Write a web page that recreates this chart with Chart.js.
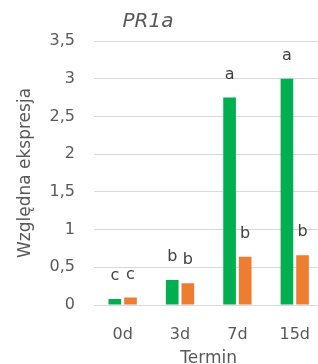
<!DOCTYPE html>
<html>
<head>
<meta charset="utf-8">
<script src="https://cdn.jsdelivr.net/npm/chart.js@4.4.0/dist/chart.umd.min.js"></script>
<style>
  html, body { margin: 0; padding: 0; background: #fff; overflow: hidden; }
  #wrap { width: 330px; height: 375px; }
</style>
</head>
<body>
<div id="wrap"><canvas id="chart"></canvas></div>
<script>
// data
const categories = ['0d', '3d', '7d', '15d'];
const greenValues = [0.08, 0.33, 2.75, 3.0];
const orangeValues = [0.10, 0.29, 0.64, 0.66];
const greenLetters = ['c', 'b', 'a', 'a'];
const orangeLetters = ['c', 'b', 'b', 'b'];

const FONT = "'DejaVu Sans', sans-serif";
const GREY = '#595959';

// letters above the bars
const letterPlugin = {
  id: 'letters',
  afterDatasetsDraw(chart) {
    const ctx = chart.ctx;
    const sets = [greenLetters, orangeLetters];
    ctx.save();
    ctx.font = '16px ' + FONT;
    ctx.fillStyle = '#404040';
    ctx.textAlign = 'center';
    ctx.textBaseline = 'middle';
    sets.forEach((letters, i) => {
      chart.getDatasetMeta(i).data.forEach((bar, j) => {
        ctx.fillText(letters[j], bar.x, bar.y - 23);
      });
    });
    ctx.restore();
  }
};

// chart title drawn by hand so it sits where the original has it
const titlePlugin = {
  id: 'pr1aTitle',
  afterDraw(chart) {
    const ctx = chart.ctx;
    ctx.save();
    ctx.font = 'italic 20px ' + FONT;
    ctx.fillStyle = GREY;
    ctx.textAlign = 'center';
    ctx.textBaseline = 'middle';
    ctx.fillText('PR1a', 148, 22);
    ctx.restore();
  }
};

new Chart(document.getElementById('chart').getContext('2d'), {
  type: 'bar',
  data: {
    labels: categories,
    datasets: [
      { label: 'A', data: greenValues, backgroundColor: '#00b050', borderWidth: 0 },
      { label: 'B', data: orangeValues, backgroundColor: '#ed7d31', borderWidth: 0 }
    ]
  },
  options: {
    responsive: true,
    maintainAspectRatio: false,
    animation: false,
    layout: { padding: { top: 41, right: 0, left: 0, bottom: 0 } },
    datasets: { bar: { categoryPercentage: 0.545, barPercentage: 0.81 } },
    plugins: {
      legend: { display: false },
      tooltip: { enabled: false }
    },
    scales: {
      x: {
        grid: { display: false, drawTicks: false },
        border: { display: false },
        ticks: { color: GREY, font: { family: FONT, size: 16 }, padding: 20 },
        title: { display: true, text: 'Termin', color: GREY, font: { family: FONT, size: 17 }, padding: { top: 0, bottom: 6 } },
        afterFit(scale) { scale.height = 70; }
      },
      y: {
        min: 0,
        max: 3.5,
        grid: { color: '#d9d9d9', lineWidth: 1, drawTicks: false },
        border: { display: false },
        ticks: {
          stepSize: 0.5,
          color: GREY,
          font: { family: FONT, size: 16 },
          padding: 19,
          callback: v => String(v).replace('.', ',')
        },
        title: { display: true, text: 'Względna ekspresja', color: GREY, font: { family: FONT, size: 17 }, padding: { top: 15, bottom: 0 } },
        afterFit(scale) { scale.width = 94; }
      }
    }
  },
  plugins: [letterPlugin, titlePlugin]
});
</script>
</body>
</html>
